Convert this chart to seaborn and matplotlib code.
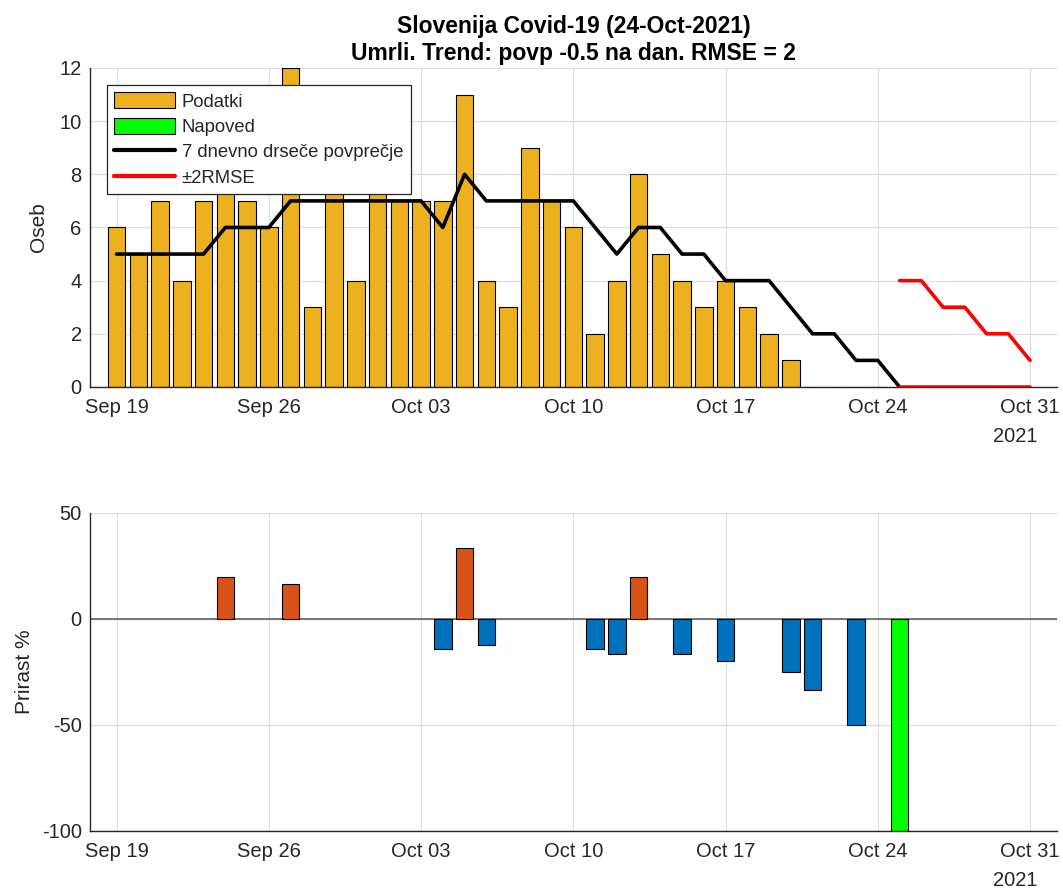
import numpy as np
import pandas as pd
import matplotlib
matplotlib.use("Agg")
import matplotlib.pyplot as plt
import matplotlib.dates as mdates
from matplotlib.patches import Patch
from matplotlib.lines import Line2D
import seaborn as sns

# ---------------- data ----------------
obs_dates = pd.date_range("2021-09-19", "2021-10-24")
deaths = [6, 5, 7, 4, 7, 8, 7, 6, 12, 3, 8, 4,
          9, 7, 7, 7, 11, 4, 3, 9, 7, 6, 2, 4, 8, 5, 4, 3, 4, 3, 2, 1, 0, 0, 0, 0]

ma_dates = pd.date_range("2021-09-19", "2021-10-25")
ma7 = [5, 5, 5, 5, 5, 6, 6, 6, 7, 7, 7, 7, 7, 7, 7,
       6, 8, 7, 7, 7, 7, 7, 6, 5, 6, 6, 5, 5, 4, 4, 4, 3, 2, 2, 1, 1, 0]

fc_dates = pd.date_range("2021-10-25", "2021-10-31")
rmse_upper = [4, 4, 3, 3, 2, 2, 1]
rmse_lower = [0, 0, 0, 0, 0, 0, 0]

growth_dates = pd.to_datetime([
    "2021-09-24", "2021-09-27", "2021-10-04", "2021-10-05", "2021-10-06",
    "2021-10-11", "2021-10-12", "2021-10-13", "2021-10-15", "2021-10-17",
    "2021-10-20", "2021-10-21", "2021-10-23", "2021-10-25"])
growth_pct = [20.0, 16.7, -14.3, 33.3, -12.5,
              -14.3, -16.7, 20.0, -16.7, -20.0,
              -25.0, -33.3, -50.0, -100.0]
growth_kind = ["rast", "rast", "padec", "rast", "padec",
               "padec", "padec", "rast", "padec", "padec",
               "padec", "padec", "padec", "napoved"]

tick_dates = pd.to_datetime(["2021-09-19", "2021-09-26", "2021-10-03", "2021-10-10",
                             "2021-10-17", "2021-10-24", "2021-10-31"])
tick_labels = ["Sep 19", "Sep 26", "Oct 03", "Oct 10", "Oct 17", "Oct 24", "Oct 31"]
year_label = "2021"

title_text = "Slovenija Covid-19 (24-Oct-2021)\nUmrli. Trend: povp -0.5 na dan. RMSE = 2"
legend_labels = ["Podatki", "Napoved", "7 dnevno drseče povprečje", "±2RMSE"]

# ---------------- style ----------------
YEL = "#EDB120"
ORA = "#D95319"
BLU = "#0072BD"
GRN = "#00FF00"
AXC = "#262626"
GRIDC = "#dedede"

sns.set_theme(style="white")
plt.rcParams["font.family"] = ["Liberation Sans", "DejaVu Sans"]
plt.rcParams["axes.unicode_minus"] = False
plt.rcParams["axes.edgecolor"] = AXC
plt.rcParams["xtick.color"] = AXC
plt.rcParams["ytick.color"] = AXC

fig = plt.figure(figsize=(10.63, 8.90), dpi=100)
ax1 = fig.add_axes([0.0847, 0.5652, 0.9097, 0.3584])
ax2 = fig.add_axes([0.0847, 0.0663, 0.9097, 0.3573])

# ---------------- top panel ----------------
df1 = pd.DataFrame({"x": mdates.date2num(obs_dates), "y": deaths})
sns.barplot(data=df1, x="x", y="y", native_scale=True, width=0.8, color=YEL,
            saturation=1, edgecolor="black", linewidth=0.8, ax=ax1, zorder=2)

sns.lineplot(x=mdates.date2num(ma_dates), y=ma7, color="black", linewidth=2.6,
             ax=ax1, zorder=3)
sns.lineplot(x=mdates.date2num(fc_dates), y=rmse_upper, color="#FF0000", linewidth=2.6,
             ax=ax1, zorder=3)
sns.lineplot(x=mdates.date2num(fc_dates), y=rmse_lower, color="#FF0000", linewidth=2.6,
             ax=ax1, zorder=3)

ax1.set_ylim(0, 12)
ax1.set_yticks([0, 2, 4, 6, 8, 10, 12])

handles = [Patch(facecolor=YEL, edgecolor="black", linewidth=0.8),
           Patch(facecolor=GRN, edgecolor="black", linewidth=0.8),
           Line2D([], [], color="black", linewidth=3),
           Line2D([], [], color="#FF0000", linewidth=3)]
leg = ax1.legend(handles, legend_labels, loc="upper left",
                 bbox_to_anchor=(0.0176, 0.9467), fontsize=13.3,
                 frameon=True, fancybox=False, framealpha=1, edgecolor=AXC,
                 borderpad=0.4, labelspacing=0.38, handlelength=3.3,
                 handleheight=0.95, handletextpad=0.35, borderaxespad=0)
leg.get_frame().set_linewidth(0.9)
leg.set_zorder(5)

ax1.set_title(title_text, fontweight="bold", fontsize=16.5, pad=6, linespacing=1.2,
              color="black")
ax1.set_ylabel("Oseb", fontsize=15, color=AXC)
ax1.yaxis.set_label_coords(-0.043, 0.5)

# ---------------- bottom panel ----------------
df2 = pd.DataFrame({"x": mdates.date2num(growth_dates), "y": growth_pct,
                    "kind": growth_kind})
ax2.axhline(0, color="#555555", linewidth=1.1, zorder=1.5)
sns.barplot(data=df2, x="x", y="y", hue="kind", native_scale=True, width=0.8,
            dodge=False, palette={"rast": ORA, "padec": BLU, "napoved": GRN},
            hue_order=["rast", "padec", "napoved"], saturation=1,
            edgecolor="black", linewidth=0.8, legend=False, ax=ax2, zorder=2)
ax2.set_ylim(-100, 50)
ax2.set_yticks([-100, -50, 0, 50])
ax2.set_ylabel("Prirast %", fontsize=15, color=AXC)
ax2.yaxis.set_label_coords(-0.058, 0.5)

# ---------------- common axis styling ----------------
x0 = mdates.date2num(pd.Timestamp("2021-09-19")) - 1.22
x1 = mdates.date2num(pd.Timestamp("2021-10-31")) + 1.24
for ax in (ax1, ax2):
    ax.set_xlim(x0, x1)
    ax.set_xticks(mdates.date2num(tick_dates))
    ax.set_xticklabels(tick_labels)
    ax.set_xlabel("")
    ax.grid(True, color=GRIDC, linewidth=0.9)
    ax.set_axisbelow(True)
    for s in ("top", "right"):
        ax.spines[s].set_visible(False)
    for s in ("left", "bottom"):
        ax.spines[s].set_color(AXC)
        ax.spines[s].set_linewidth(1.0)
    ax.tick_params(axis="both", direction="in", length=7, width=1.0,
                   labelsize=14.5, colors=AXC)
    ax.tick_params(axis="x", pad=8)
    ax.tick_params(axis="y", pad=6)
    ax.annotate(year_label, xy=(mdates.date2num(tick_dates[-1]), 0),
                xycoords=("data", "axes fraction"), xytext=(-10.5, -35.5),
                textcoords="offset points", ha="center", va="center",
                fontsize=14.5, color=AXC)

fig.savefig("out.png", dpi=100, facecolor="white")
